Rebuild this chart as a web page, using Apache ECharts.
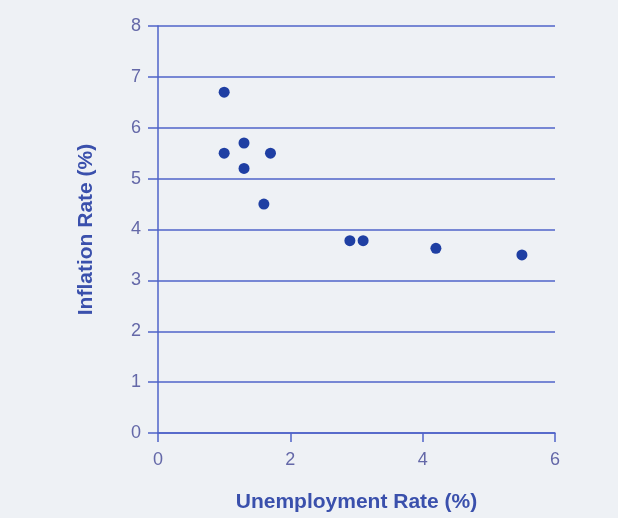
<!DOCTYPE html>
<html><head><meta charset="utf-8">
<script src="https://cdn.jsdelivr.net/npm/echarts@6/dist/echarts.min.js"></script>
<style>html,body{margin:0;padding:0;background:#eef1f5;}#c{width:618px;height:518px;}</style>
</head><body><div id="c"></div>
<script>
const unemployment = [1.0, 1.0, 1.3, 1.3, 1.7, 1.6, 2.9, 3.1, 4.2, 5.5];
const inflation    = [6.7, 5.5, 5.7, 5.2, 5.5, 4.5, 3.78, 3.78, 3.63, 3.5];
const xTitle = 'Unemployment Rate (%)';
const yTitle = 'Inflation Rate (%)';

const points = unemployment.map((u, i) => [u, inflation[i]]);
const chart = echarts.init(document.getElementById('c'));
const lineCol = '#4f63c8';
const labCol = '#6468a8';
const titleCol = '#3a50ac';
chart.setOption({
  backgroundColor: '#eef1f5',
  animation: false,
  grid: {left: 158, right: 63, top: 26, bottom: 84},
  xAxis: {
    type: 'value', min: 0, max: 6, interval: 2,
    name: xTitle, nameLocation: 'middle', nameGap: 59,
    nameTextStyle: {color: titleCol, fontSize: 21, fontWeight: 'bold', fontFamily: 'Liberation Sans'},
    axisLine: {show: true, lineStyle: {color: lineCol, width: 1.5}},
    axisTick: {show: true, length: 9, lineStyle: {color: lineCol, width: 1.5}},
    axisLabel: {color: labCol, fontSize: 18, margin: 18, fontFamily: 'Liberation Sans'},
    splitLine: {show: false}
  },
  yAxis: {
    type: 'value', min: 0, max: 8, interval: 1,
    name: yTitle, nameLocation: 'middle', nameGap: 61, nameRotate: 90,
    nameTextStyle: {color: titleCol, fontSize: 21, fontWeight: 'bold', fontFamily: 'Liberation Sans'},
    axisLine: {show: true, lineStyle: {color: lineCol, width: 1.5}},
    axisTick: {show: true, length: 10, lineStyle: {color: lineCol, width: 1.5}},
    axisLabel: {color: labCol, fontSize: 18, margin: 17, fontFamily: 'Liberation Sans'},
    splitLine: {show: true, lineStyle: {color: lineCol, width: 1.5}}
  },
  series: [{
    type: 'scatter', data: points, symbolSize: 11,
    itemStyle: {color: '#1f3fa3', opacity: 1},
    emphasis: {disabled: true}
  }]
});
</script></body></html>
